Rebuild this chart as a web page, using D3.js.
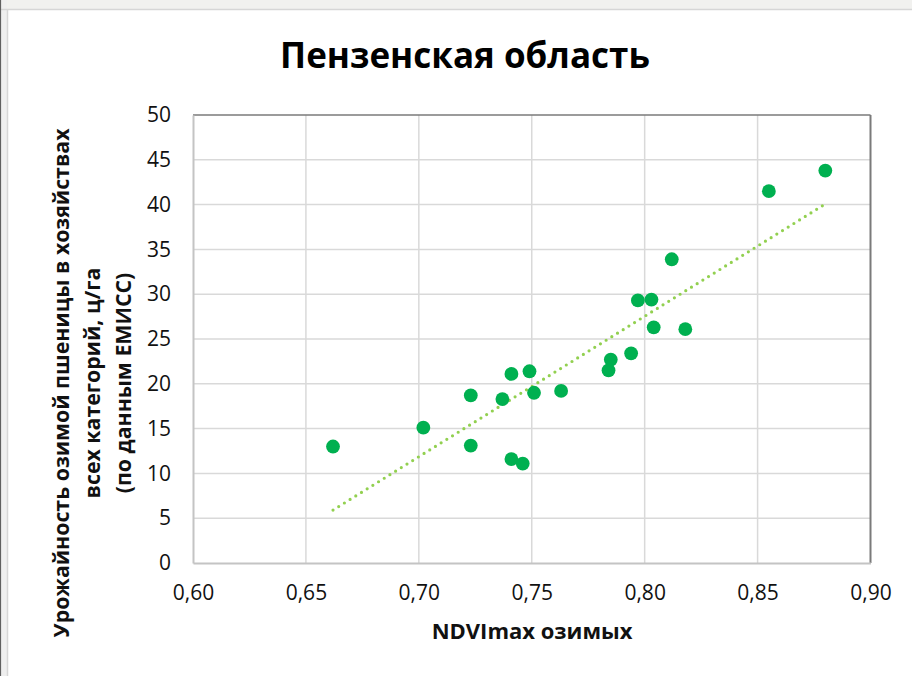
<!DOCTYPE html>
<html>
<head>
<meta charset="utf-8">
<script src="https://cdn.jsdelivr.net/npm/d3@7/dist/d3.min.js"></script>
<style>
  html, body { margin: 0; padding: 0; background: #ffffff; }
  svg { display: block; }
</style>
</head>
<body>
<svg id="chart" width="912" height="676"></svg>
<script>
// NDVImax of winter crops vs. winter wheat yield, Penza oblast
const ndviMax = [0.662, 0.702, 0.723, 0.723, 0.737, 0.741, 0.749, 0.751, 0.763, 0.741, 0.746,
                 0.784, 0.785, 0.794, 0.797, 0.803, 0.804, 0.812, 0.818, 0.855, 0.880];
const yieldCwtHa = [13.0, 15.1, 18.7, 13.1, 18.3, 21.1, 21.4, 19.0, 19.2, 11.6, 11.1,
                    21.5, 22.7, 23.4, 29.3, 29.4, 26.3, 33.9, 26.1, 41.5, 43.8];
const xTicks = [0.60, 0.65, 0.70, 0.75, 0.80, 0.85, 0.90];
const yTicks = [0, 5, 10, 15, 20, 25, 30, 35, 40, 45, 50];

const titleText = "Пензенская область";
const xTitleText = "NDVImax озимых";
const yTitleLines = ["Урожайность озимой пшеницы в хозяйствах",
                     "всех категорий, ц/га",
                     "(по данным ЕМИСС)"];

const svg = d3.select("#chart");
const W = 912, H = 676;
const plot = { left: 193, right: 870.5, top: 115, bottom: 563 };

// window chrome around the chart object
svg.append("rect").attr("x", 0).attr("y", 0).attr("width", W).attr("height", H).attr("fill", "#ffffff");
svg.append("rect").attr("x", 0).attr("y", 0).attr("width", W).attr("height", 9).attr("fill", "#f1f1ef");
svg.append("rect").attr("x", 0).attr("y", 0).attr("width", 7).attr("height", H).attr("fill", "#efefef");
svg.append("line").attr("x1", 0).attr("x2", W).attr("y1", 9.5).attr("y2", 9.5)
  .attr("stroke", "#d6d6d6").attr("stroke-width", 1.5);
svg.append("line").attr("x1", 7.5).attr("x2", 7.5).attr("y1", 9).attr("y2", H)
  .attr("stroke", "#d6d6d6").attr("stroke-width", 1.5);
svg.append("line").attr("x1", 0.5).attr("x2", 0.5).attr("y1", 0).attr("y2", H)
  .attr("stroke", "#606060").attr("stroke-width", 1.2);

const x = d3.scaleLinear().domain([0.60, 0.90]).range([plot.left, plot.right]);
const y = d3.scaleLinear().domain([0, 50]).range([plot.bottom, plot.top]);

const fmt = v => d3.format(".2f")(v).replace(".", ",");

// gridlines
const grid = svg.append("g");
grid.selectAll("line.gx").data(xTicks.slice(1, -1)).join("line")
  .attr("x1", d => x(d)).attr("x2", d => x(d))
  .attr("y1", plot.top).attr("y2", plot.bottom)
  .attr("stroke", "#d9d9d9").attr("stroke-width", 1.5);
grid.selectAll("line.gy").data(yTicks.slice(1, -1)).join("line")
  .attr("x1", plot.left).attr("x2", plot.right)
  .attr("y1", d => y(d)).attr("y2", d => y(d))
  .attr("stroke", "#d9d9d9").attr("stroke-width", 1.5);

// plot frame: light axes on left/bottom, dark border on top/right
svg.append("line").attr("x1", plot.left).attr("x2", plot.right).attr("y1", plot.top).attr("y2", plot.top)
  .attr("stroke", "#7a7a7a").attr("stroke-width", 1.5);
svg.append("line").attr("x1", plot.right).attr("x2", plot.right).attr("y1", plot.top).attr("y2", plot.bottom)
  .attr("stroke", "#7a7a7a").attr("stroke-width", 2);

// axes
const xAxis = svg.append("g").attr("transform", `translate(0,${plot.bottom})`)
  .call(d3.axisBottom(x).tickValues(xTicks).tickFormat(fmt).tickSize(0).tickPadding(22));
const yAxis = svg.append("g").attr("transform", `translate(${plot.left},0)`)
  .call(d3.axisLeft(y).tickValues(yTicks).tickFormat(d3.format("d")).tickSize(0).tickPadding(22));
[xAxis, yAxis].forEach(g => {
  g.select(".domain").attr("stroke", "#c4c4c4").attr("stroke-width", 2);
  g.selectAll("text").attr("font-family", "'Open Sans', sans-serif")
    .attr("font-size", 21).attr("fill", "#111111");
});

// linear trendline (least squares)
const n = ndviMax.length;
const mx = d3.mean(ndviMax), my = d3.mean(yieldCwtHa);
let sxy = 0, sxx = 0;
for (let i = 0; i < n; i++) {
  sxy += (ndviMax[i] - mx) * (yieldCwtHa[i] - my);
  sxx += (ndviMax[i] - mx) ** 2;
}
const slope = sxy / sxx, intercept = my - slope * mx;
const [x0, x1] = d3.extent(ndviMax);
svg.append("line")
  .attr("x1", x(x0)).attr("y1", y(intercept + slope * x0))
  .attr("x2", x(x1)).attr("y2", y(intercept + slope * x1))
  .attr("stroke", "#92d050").attr("stroke-width", 3.2)
  .attr("stroke-linecap", "round").attr("stroke-dasharray", "0 6.7");

// points
svg.append("g").selectAll("circle").data(d3.range(n)).join("circle")
  .attr("cx", i => x(ndviMax[i])).attr("cy", i => y(yieldCwtHa[i]))
  .attr("r", 6.9).attr("fill", "#00b050");

// titles
svg.append("text").attr("x", 465).attr("y", 68)
  .attr("text-anchor", "middle").attr("font-family", "'Open Sans', sans-serif")
  .attr("font-weight", 700).attr("font-size", 35).attr("fill", "#000000")
  .text(titleText);

svg.append("text").attr("x", 532).attr("y", 639)
  .attr("text-anchor", "middle").attr("font-family", "'Open Sans', sans-serif")
  .attr("font-weight", 700).attr("font-size", 22).attr("fill", "#111111")
  .text(xTitleText);

const yTitle = svg.append("text")
  .attr("transform", "translate(69,383) rotate(-90)")
  .attr("text-anchor", "middle").attr("font-family", "'Open Sans', sans-serif")
  .attr("font-weight", 700).attr("font-size", 21.3).attr("fill", "#111111");
yTitle.selectAll("tspan").data(yTitleLines).join("tspan")
  .attr("x", 0).attr("dy", (d, i) => i === 0 ? 0 : 31)
  .text(d => d);
</script>
</body>
</html>
